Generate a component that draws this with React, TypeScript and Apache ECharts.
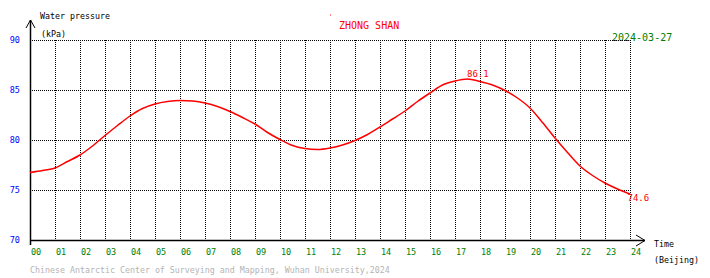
import React, { useEffect, useRef } from "react";
import * as echarts from "echarts";

const hours = [
  0, 0.5, 1, 1.5, 2, 2.5, 3, 3.5, 4, 4.5, 5, 5.5, 6, 6.5, 7, 7.5, 8, 8.5, 9, 9.5,
  10, 10.5, 11, 11.5, 12, 12.5, 13, 13.5, 14, 14.5, 15, 15.5, 16, 16.5, 17, 17.5,
  18, 18.5, 19, 19.5, 20, 20.5, 21, 21.5, 22, 22.5, 23, 23.5, 24,
];
const pressure = [
  76.75, 76.95, 77.2, 77.85, 78.5, 79.4, 80.45, 81.45, 82.4, 83.15, 83.6, 83.85,
  83.95, 83.9, 83.7, 83.35, 82.85, 82.25, 81.6, 80.75, 80.05, 79.45, 79.15, 79.05,
  79.2, 79.5, 79.95, 80.55, 81.3, 82.1, 82.9, 83.85, 84.7, 85.5, 85.9, 86.1,
  85.85, 85.5, 84.95, 84.2, 83.2, 81.75, 80.2, 78.75, 77.4, 76.45, 75.7, 75.1, 74.6,
];
const yTicks = [70, 75, 80, 85, 90];
const title = "ZHONG SHAN";
const dateText = "2024-03-27";
const footer = "Chinese Antarctic Center of Surveying and Mapping, Wuhan University,2024";

const MONO = '"DejaVu Sans Mono", "Liberation Mono", monospace';

export default function App() {
  const ref = useRef<HTMLDivElement>(null);
  useEffect(() => {
    if (!ref.current) return;
    const chart = echarts.init(ref.current, undefined, { renderer: "svg" });
    let iMax = 0;
    pressure.forEach((v, i) => {
      if (v > pressure[iMax]) iMax = i;
    });
    const iLast = pressure.length - 1;
    const txt = (x: number, y: number, text: string, fill: string, fontSize: number) => ({
      type: "text",
      x,
      y,
      silent: true,
      style: { text, fill, font: `${fontSize}px ${MONO}`, textAlign: "left", textVerticalAlign: "middle" },
    });
    chart.setOption({
      animation: false,
      backgroundColor: "#ffffff",
      grid: { left: 30, right: 80, top: 40, bottom: 38, containLabel: false },
      xAxis: {
        type: "value",
        min: 0,
        max: 24,
        interval: 1,
        axisLine: { show: false },
        axisTick: { show: false },
        axisLabel: {
          color: "#008000",
          fontFamily: MONO,
          fontSize: 8.5,
          align: "left",
          margin: 7,
          padding: [0, 0, 0, 1],
          formatter: (v: number) => String(v).padStart(2, "0"),
        },
        splitLine: { show: true, lineStyle: { color: "#000", width: 1, type: [1, 1] } },
      },
      yAxis: {
        type: "value",
        min: yTicks[0],
        max: yTicks[yTicks.length - 1],
        interval: 5,
        axisLine: { show: false },
        axisTick: { show: false },
        axisLabel: {
          color: "#0000ff",
          fontFamily: MONO,
          fontSize: 8.5,
          margin: 10,
          verticalAlign: "middle",
          padding: [0, 0, 5, 0],
        },
        splitLine: { show: true, lineStyle: { color: "#000", width: 1, type: [1, 1] } },
      },
      series: [
        {
          type: "line",
          data: hours.map((h, i) => [h, pressure[i]]),
          showSymbol: false,
          smooth: 0.3,
          lineStyle: { color: "#ff0000", width: 1.5 },
          markPoint: {
            symbol: "circle",
            symbolSize: 1,
            itemStyle: { color: "rgba(0,0,0,0)" },
            label: {
              show: true,
              color: "#ff0000",
              fontFamily: MONO,
              fontSize: 9,
              align: "left",
              verticalAlign: "middle",
              formatter: (p: any) => Number(p.value).toFixed(1),
            },
            data: [
              { coord: [hours[iMax], pressure[iMax]], value: pressure[iMax], label: { position: [0, -5] } },
              { coord: [hours[iLast], pressure[iLast]], value: pressure[iLast], label: { position: [-2, 4] } },
            ],
          },
        },
      ],
      graphic: [
        { type: "line", silent: true, shape: { x1: 30.5, y1: 20, x2: 30.5, y2: 245 }, style: { stroke: "#000", lineWidth: 1.5 } },
        { type: "line", silent: true, shape: { x1: 30, y1: 240.5, x2: 645, y2: 240.5 }, style: { stroke: "#000", lineWidth: 1.5 } },
        { type: "polyline", silent: true, shape: { points: [[26, 28], [30.5, 20], [35, 28]] }, style: { stroke: "#000", lineWidth: 1, fill: "none" } },
        { type: "polyline", silent: true, shape: { points: [[636, 235], [645, 240.5], [636, 246]] }, style: { stroke: "#000", lineWidth: 1, fill: "none" } },
        txt(40, 16, "Water pressure", "#000000", 8.3),
        txt(41, 34, "(kPa)", "#000000", 8.3),
        txt(339, 25, title, "#ff0000", 10),
        { type: "rect", silent: true, shape: { x: 330, y: 14.5, width: 1, height: 1 }, style: { fill: "#ff0000" } },
        txt(612, 37, dateText, "#008000", 10),
        txt(654, 244, "Time", "#000000", 8.3),
        txt(654, 260, "(Beijing)", "#000000", 8.3),
        txt(30, 270, footer, "#b4b4b4", 8.3),
      ],
    });
    return () => chart.dispose();
  }, []);
  return (
    <div
      ref={ref}
      style={{ position: "fixed", left: 0, top: 0, width: 710, height: 278, background: "#fff" }}
    />
  );
}
